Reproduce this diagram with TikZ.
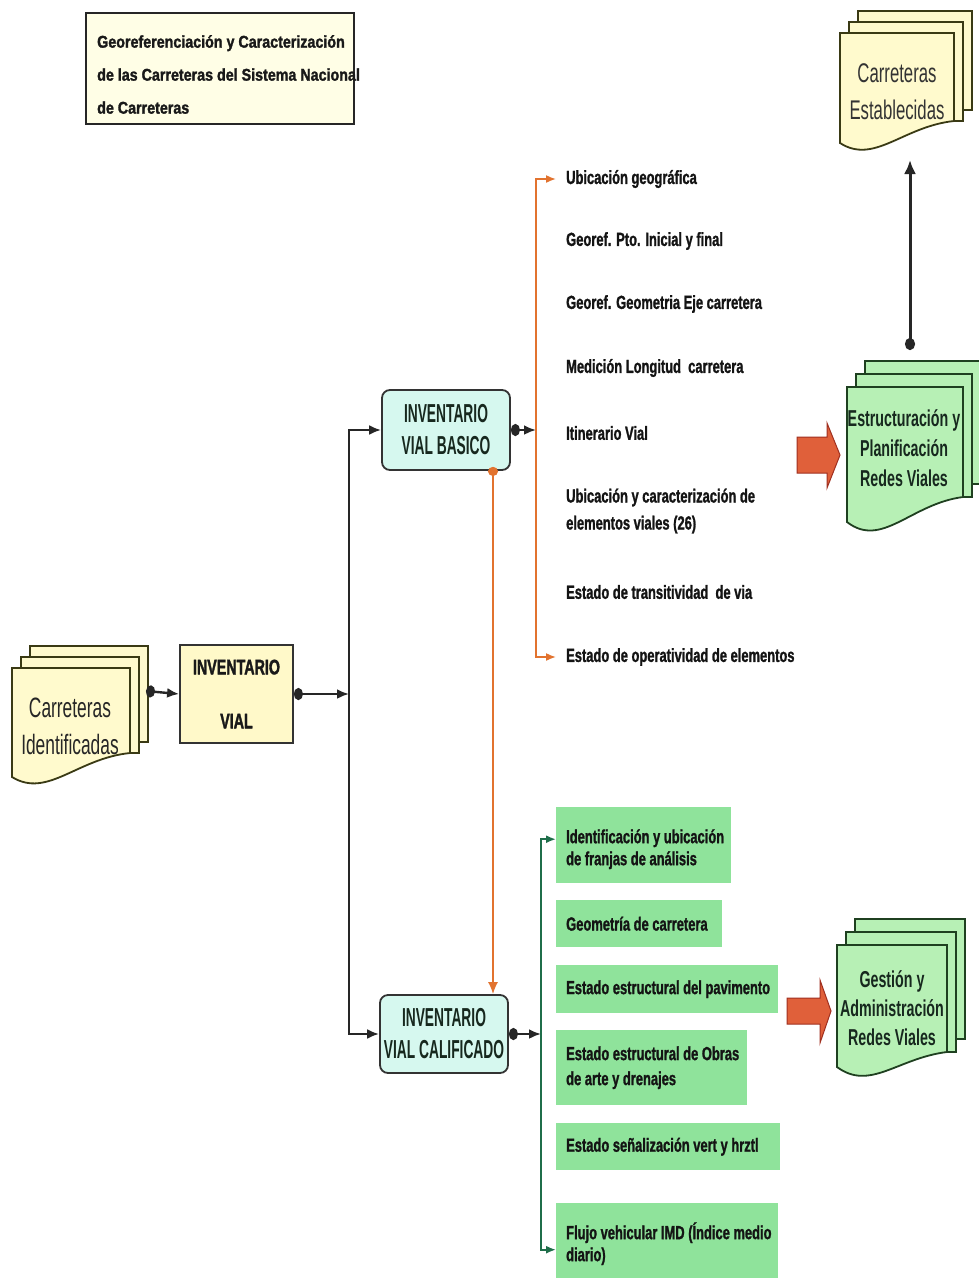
\documentclass[tikz,border=0pt]{standalone}
\usepackage{fontspec}
\setmainfont{Liberation Sans}
\newfontfamily\fTitle{Liberation Sans}[FakeStretch=0.84,FakeBold=1.6]
\newfontfamily\fList{Liberation Sans}[FakeStretch=0.68,FakeBold=1.2]
\newfontfamily\fBox{Liberation Sans}[FakeStretch=0.53]
\newfontfamily\fDoc{Liberation Sans}[FakeStretch=0.62]
\newfontfamily\fHeavy{Liberation Sans}[FakeStretch=0.68,FakeBold=1.6]
\newfontfamily\fGreen{Liberation Sans}[FakeStretch=0.62]
\usetikzlibrary{arrows.meta,calc}

\definecolor{cream}{HTML}{FFFACD}
\definecolor{creambox}{HTML}{FFF9C9}
\definecolor{titlefill}{HTML}{FFFEE6}
\definecolor{cyanfill}{HTML}{D6F8EF}
\definecolor{docgreen}{HTML}{B7F0B5}
\definecolor{listgreen}{HTML}{8FE39B}
\definecolor{orangeline}{HTML}{E2732F}
\definecolor{greenline}{HTML}{1F6E4A}
\definecolor{blockfill}{HTML}{E0603A}
\definecolor{blockline}{HTML}{A03020}
\definecolor{olive}{HTML}{3A3A14}
\definecolor{darkgreen}{HTML}{1F4020}
\definecolor{inkgreen}{HTML}{17281E}

% multi-document stack: name, x, y, width, left height, right height, dx, dy, fill
\newcommand\mdoc[9]{%
  \foreach \k in {2,1}{%
    \filldraw[docline, fill=#9] ({#2+\k*#7},{#3-\k*#8}) rectangle ({#2+#4+\k*#7},{#3+#6-(\k-1)*#8});
  }%
  \filldraw[docline, fill=#9] (#2,#3) -- ({#2+#4},#3) -- ({#2+#4},{#3+#6})
    .. controls ({#2+0.55*#4},{#3+#6+0.05*#5}) and ({#2+0.3*#4},{#3+1.2*#5}) .. (#2,{#3+#5}) -- cycle;
  \coordinate (#1) at ({#2+#4/2},{#3+#5/2});
}

\begin{document}
\begin{tikzpicture}[x=1pt,y=-1pt,
  docline/.style={draw=olive, line width=1.8pt},
  tipA/.tip={Latex[length=12pt,width=10pt]},
  tipB/.tip={Latex[length=10pt,width=8pt]},
  dotA/.tip={Circle[length=9pt,width=12pt]},
  conn/.style={draw=black!85, line width=2.4pt},
  dotarr/.style={conn, dotA-tipA},
  orng/.style={draw=orangeline, line width=1.6pt},
  grn/.style={draw=greenline, line width=1.8pt},
  listfont/.style={font=\fList\bfseries\fontsize{19}{27}\selectfont},
  listtext/.style={listfont, align=left, anchor=west, inner xsep=10pt, inner ysep=0pt, text=black!92},
  greenbox/.style={fill=listgreen, inner sep=0pt, anchor=north west},
  boxtext/.style={anchor=west, inner xsep=10pt, inner ysep=0pt, align=left, text=black!92,
    font=\fList\bfseries\fontsize{19}{22}\selectfont},
  invbox/.style={draw=black!80, line width=1.8pt, rounded corners=8pt, fill=cyanfill,
    font=\fBox\bfseries\fontsize{26}{32}\selectfont, text=inkgreen, align=center, minimum width=128pt},
  blockarrow/.style={fill=blockfill, draw=blockline, line width=1pt}
]
\useasboundingbox (0,0) rectangle (978,1278);
\fill[white] (0,0) rectangle (978,1278);

% title
\node[draw=black!85, line width=2pt, fill=titlefill, anchor=north west,
  minimum width=268pt, minimum height=111pt, inner sep=0pt,
  label={[anchor=west, yshift=-6pt, inner xsep=12pt, align=left, text=black!90,
    font=\fTitle\bfseries\fontsize{17}{33}\selectfont]west:{Georeferenciación y Caracterización\\de las Carreteras del Sistema Nacional\\de Carreteras}}]
  (title) at (85,12) {};

% document stacks
\mdoc{idn-doc}{12}{668}{118}{109}{85}{9}{11}{cream}
\node[font=\fDoc\fontsize{28}{37}\selectfont, text=black!85, align=center] (idn) at (70,726) {Carreteras\\Identificadas};
\coordinate (idn-out) at (146,691);

\mdoc{ces-doc}{840}{33}{114}{110}{88}{9}{11}{cream}
\node[font=\fDoc\fontsize{27}{37}\selectfont, text=black!80, align=center] (ces) at (897,92) {Carreteras\\Establecidas};
\coordinate (ces-in) at (910,160);

\tikzset{docline/.style={draw=darkgreen, line width=1.8pt}}
\mdoc{epl-doc}{847}{387}{116}{135}{110}{9}{13}{docgreen}
\node[font=\fGreen\bfseries\fontsize{23}{30}\selectfont, text=inkgreen, align=center] (epl) at (904,448) {Estructuración y\\Planificación\\Redes Viales};
\coordinate (epl-out) at (910,350);

\mdoc{gad-doc}{837}{945}{110}{122}{107}{9}{13}{docgreen}
\node[font=\fGreen\bfseries\fontsize{23}{29}\selectfont, text=inkgreen, align=center] (gad) at (892,1008) {Gestión y\\Administración\\Redes Viales};

% main boxes
\node[draw=black!80, line width=1.8pt, fill=creambox, minimum width=113pt, minimum height=98pt,
  font=\fHeavy\bfseries\fontsize{21}{54}\selectfont, text=black!90, align=center] (inv) at (236.5,694) {INVENTARIO\\VIAL};
\node[invbox, minimum height=80pt] (bas) at (446,430) {INVENTARIO\\VIAL BASICO};
\node[invbox, minimum height=78pt] (cal) at (444,1034) {INVENTARIO\\VIAL CALIFICADO};

% basic inventory items
\node[listtext] (o1) at (556,179) {Ubicación geográfica};
\node[listtext] (o2) at (556,241) {Georef. Pto. Inicial y final};
\node[listtext] (o3) at (556,304) {Georef. Geometria Eje carretera};
\node[listtext] (o4) at (556,368) {Medición Longitud\ \ carretera};
\node[listtext] (o5) at (556,433) {Itinerario Vial};
\node[listtext] (o6) at (556,511) {Ubicación y caracterización de\\elementos viales (26)};
\node[listtext] (o7) at (556,592) {Estado de transitividad\ \ de via};
\node[listtext] (o8) at (556,657) {Estado de operatividad de elementos};

% qualified inventory items
\node[greenbox, minimum width=175pt, minimum height=76pt,
  label={[boxtext, yshift=-4pt]west:{Identificación y ubicación\\de franjas de análisis}}] (g1) at (556,807) {};
\node[greenbox, minimum width=166pt, minimum height=47pt,
  label={[boxtext]west:{Geometría de carretera}}] (g2) at (556,900) {};
\node[greenbox, minimum width=222pt, minimum height=48pt,
  label={[boxtext]west:{Estado estructural del pavimento}}] (g3) at (556,965) {};
\node[greenbox, minimum width=191pt, minimum height=75pt,
  label={[boxtext, font=\fList\bfseries\fontsize{19}{25}\selectfont]west:{Estado estructural de Obras\\de arte y drenajes}}] (g4) at (556,1030) {};
\node[greenbox, minimum width=224pt, minimum height=47pt,
  label={[boxtext]west:{Estado señalización vert y hrztl}}] (g5) at (556,1123) {};
\node[greenbox, minimum width=222pt, minimum height=75pt,
  label={[boxtext, yshift=-3pt]west:{Flujo vehicular IMD (Índice medio\\diario)}}] (g6) at (556,1203) {};

% bus lines
\coordinate (bus) at (349,0);
\coordinate (obus) at (536,0);
\coordinate (gbus) at (541,0);
\coordinate (ox) at (493,0);

% connectors
\draw[dotarr] (idn-out) -- (inv.west);
\draw[dotarr] (inv.east) -- (inv.east -| bus);
\draw[conn, tipA-tipA]
  (bas.west) -- (bas.west -| bus) -- (cal.west -| bus) -- (cal.west);
\draw[dotarr] (bas.east) -- (bas.east -| obus);
\draw[dotarr] (cal.east) -- (cal.east -| gbus);
\draw[orng, tipB-tipB]
  (o1.west) -- (o1.west -| obus) -- (o8.west -| obus) -- (o8.west);
\draw[orng, {Circle[length=9pt,width=10pt]}-tipA]
  ([yshift=4pt]bas.south -| ox) -- (cal.north -| ox);
\draw[grn, tipB-tipB]
  ([yshift=6pt]g1.west) -- ([yshift=6pt]g1.west -| gbus) -- ([yshift=-9pt]g6.west -| gbus) -- ([yshift=-9pt]g6.west);
\draw[conn, line width=3pt, {Circle[length=12pt,width=10pt]}-{Latex[length=14pt,width=12pt]}] (epl-out) -- (ces-in);

% block arrows
\filldraw[blockarrow] (797,437) -- (827,437) -- (827,423) -- (840,455) -- (827,488) -- (827,473) -- (797,473) -- cycle;
\filldraw[blockarrow] (787,998) -- (820,998) -- (820,980) -- (831,1011) -- (820,1043) -- (820,1024) -- (787,1024) -- cycle;
\end{tikzpicture}
\end{document}
